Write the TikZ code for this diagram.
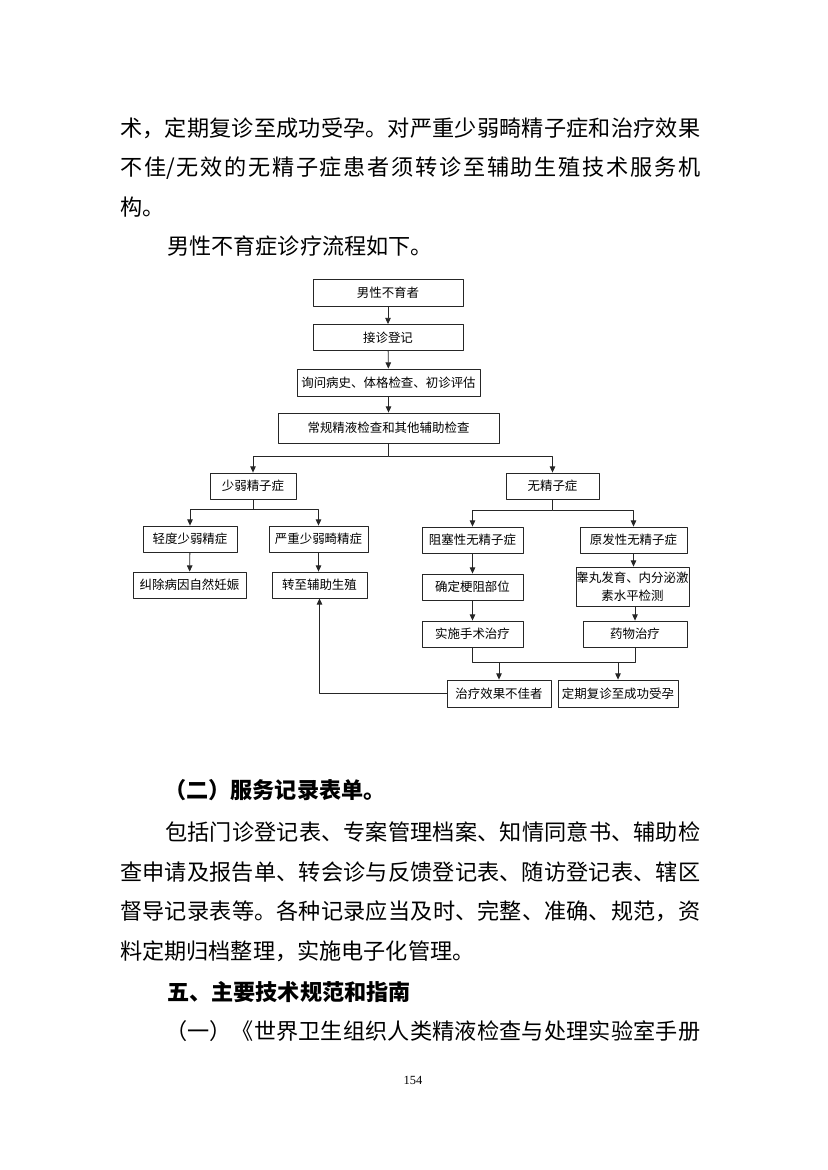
\documentclass[tikz,border=0pt]{standalone}
\usepackage{fontspec}
\setmainfont{Noto Sans CJK SC}
\newfontfamily\numfont{Liberation Serif}
\usetikzlibrary{arrows.meta}
\XeTeXlinebreaklocale "zh"
\XeTeXlinebreakskip=0pt plus 2pt minus 0.3pt
\newdimen\px \px=0.254mm

\begin{document}
\begin{tikzpicture}[x=0.254mm,y=-0.254mm,>={Triangle[length=4.5pt,width=4pt]},line join=round,
			box/.style={draw=black!85,line width=0.6pt,inner sep=0pt,align=center,font=\fontsize{9}{13}\selectfont},
			boxwh/.style 2 args={box,minimum width=#1*\px,minimum height=#2*\px},
			link/.style={draw=black!85,line width=0.6pt,->},
			body/.style={anchor=base west,inner sep=0pt,font=\fontsize{16}{20}\selectfont},
			fullline/.style={body,text width=#1*\px,align=justify,execute at begin node={\parfillskip=0pt\relax\emergencystretch=20pt}},
			head/.style={body,font=\fontsize{16}{20}\selectfont\bfseries}]
			\useasboundingbox[fill=white] (0,0) rectangle (827,1170);
			%%Đoạn văn phía trên
			\node[fullline=580] (t1) at (120,137) {术，定期复诊至成功受孕。对严重少弱畸精子症和治疗效果};
			\node[fullline=580] (t2) at (120,176) {不佳/无效的无精子症患者须转诊至辅助生殖技术服务机};
			\node[body] (t3) at (120,216) {构。};
			\node[body] (t4) at (167,255) {男性不育症诊疗流程如下。};
			%%Các ô
			\node[boxwh={150}{27}] (male) at (388,292.5) {男性不育者};
			\node[boxwh={150}{26}] (reg) at (388,337.5) {接诊登记};
			\node[boxwh={183}{27}] (hist) at (388.5,382.5) {询问病史、体格检查、初诊评估};
			\node[boxwh={221}{30}] (exam) at (388.5,428) {常规精液检查和其他辅助检查};
			\node[boxwh={86}{26}] (oligo) at (253,486) {少弱精子症};
			\node[boxwh={93}{26}] (azoo) at (552.5,486) {无精子症};
			\node[boxwh={94}{26}] (mild) at (190,539) {轻度少弱精症};
			\node[boxwh={99}{26}] (severe) at (318.5,539) {严重少弱畸精症};
			\node[boxwh={113}{26}] (natural) at (189.5,585) {纠除病因自然妊娠};
			\node[boxwh={95}{26}] (refer) at (319.5,585) {转至辅助生殖};
			\node[boxwh={101}{26}] (obst) at (472.5,540) {阻塞性无精子症};
			\node[boxwh={107}{26}] (prim) at (633.5,540) {原发性无精子症};
			\node[boxwh={101}{26}] (locate) at (472.5,587) {确定梗阻部位};
			\node[boxwh={113}{39}] (hormone) at (632.5,586.5) {睾丸发育、内分泌激\\素水平检测};
			\node[boxwh={101}{26}] (surg) at (472.5,634) {实施手术治疗};
			\node[boxwh={104}{26}] (drug) at (635,634) {药物治疗};
			\node[boxwh={104}{27}] (fail) at (499,693.5) {治疗效果不佳者};
			\node[boxwh={120}{27}] (success) at (618,693.5) {定期复诊至成功受孕};
			%%Điểm rẽ nhánh
			\coordinate (split1) at (388.5,456);
			\coordinate (split2) at (253,509);
			\coordinate (split3) at (552.5,510);
			\coordinate (mergeL) at (472.5,662);
			\coordinate (mergeR) at (635,662);
			%%Mũi tên
			\draw[link] (male) -- (reg);
			\draw[link] (reg) -- (hist);
			\draw[link] (hist) -- (exam);
			\draw[link] (exam) -- (split1) -| (oligo);
			\draw[link] (split1) -| (azoo);
			\draw[link] (oligo) -- (split2) -| (mild);
			\draw[link] (split2) -| (severe);
			\draw[link] (mild) -- (natural);
			\draw[link] (severe.south) -- (severe.south |- refer.north);
			\draw[link] (azoo) -- (split3) -| (obst);
			\draw[link] (split3) -| (prim);
			\draw[link] (obst) -- (locate);
			\draw[link] (locate) -- (surg);
			\draw[link] (prim.south) -- (prim.south |- hormone.north);
			\draw[link] (hormone.south -| drug) -- (drug);
			\draw[draw=black!85,line width=0.6pt] (surg) -- (mergeL) -- (mergeR) -- (drug);
			\draw[link] (mergeL -| fail) -- (fail);
			\draw[link] (mergeL -| success) -- (success);
			\draw[link] (fail.west) -| (refer.south);
			%%Đoạn văn phía dưới
			\node[head] (h1) at (164,798) {（二）服务记录表单。};
			\node[fullline=535] (p1) at (165,840) {包括门诊登记表、专案管理档案、知情同意书、辅助检};
			\node[fullline=580] (p2) at (120,880) {查申请及报告单、转会诊与反馈登记表、随访登记表、辖区};
			\node[fullline=580] (p3) at (120,919) {督导记录表等。各种记录应当及时、完整、准确、规范，资};
			\node[body] (p4) at (120,959) {料定期归档整理，实施电子化管理。};
			\node[head] (h2) at (167,1000) {五、主要技术规范和指南};
			\node[fullline=535] (p5) at (165,1039) {（一）《世界卫生组织人类精液检查与处理实验室手册};
			\node[font=\numfont\fontsize{9}{11}\selectfont,anchor=base] (pg) at (413,1084) {154};
		\end{tikzpicture}
\end{document}
